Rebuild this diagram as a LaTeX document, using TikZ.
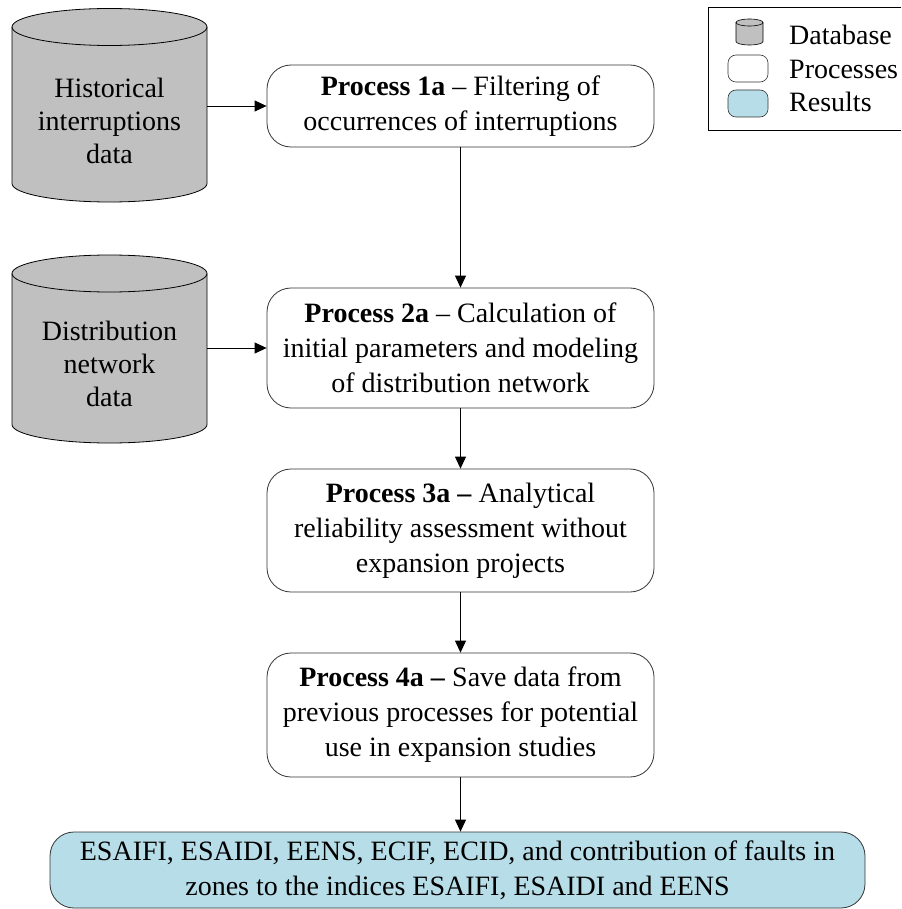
\documentclass[tikz,border=0pt]{standalone}
\usepackage{fontspec}
\setmainfont{Liberation Serif}
\usetikzlibrary{arrows.meta}
\definecolor{dbgray}{HTML}{C0C0C0}
\definecolor{resblue}{HTML}{B7DEE8}
\definecolor{edgegray}{HTML}{333333}

\begin{document}
\begin{tikzpicture}[x=1pt,y=-1pt,
  every node/.style={font=\fontsize{28}{35}\selectfont, inner sep=0pt},
  proc/.style={draw=edgegray, line width=0.8pt, rounded corners=24pt, minimum width=387pt, align=center},
  res/.style={proc, fill=resblue, minimum width=815pt, minimum height=76pt},
  dbtext/.style={font=\fontsize{28}{33}\selectfont, minimum width=195pt, align=center},
  flow/.style={-{Triangle[length=12pt,width=11pt]}, line width=0.8pt}]
\useasboundingbox (0,0) rectangle (901,909);

\fill[dbgray] (12,27) -- (12,183.5) arc[start angle=180,end angle=360,x radius=97.5pt,y radius=18.5pt] -- (207,27) -- cycle;
\draw[fill=dbgray,line width=0.8pt] (109.5,27) ellipse[x radius=97.5pt,y radius=18.5pt];
\draw[line width=0.8pt] (12,27) -- (12,183.5) arc[start angle=180,end angle=360,x radius=97.5pt,y radius=18.5pt] -- (207,27);

\fill[dbgray] (12,273.5) -- (12,424.5) arc[start angle=180,end angle=360,x radius=97.5pt,y radius=18.5pt] -- (207,273.5) -- cycle;
\draw[fill=dbgray,line width=0.8pt] (109.5,273.5) ellipse[x radius=97.5pt,y radius=18.5pt];
\draw[line width=0.8pt] (12,273.5) -- (12,424.5) arc[start angle=180,end angle=360,x radius=97.5pt,y radius=18.5pt] -- (207,273.5);

\node[dbtext] (hist) at (109.5,121) {Historical\\interruptions\\data};
\node[dbtext] (dist) at (109.5,364) {Distribution\\network\\data};

\node[proc, minimum height=82pt] (p1a) at (460.5,106) {\textbf{Process 1a} -- Filtering of\\occurrences of interruptions};
\node[proc, minimum height=120pt] (p2a) at (460.5,348) {\textbf{Process 2a} -- Calculation of\\initial parameters and modeling\\of distribution network};
\node[proc, minimum height=123pt] (p3a) at (460.5,530.5) {\textbf{Process 3a --} Analytical\\reliability assessment without\\expansion projects};
\node[proc, minimum height=124pt] (p4a) at (460.5,715) {\textbf{Process 4a --} Save data from\\previous processes for potential\\use in expansion studies};
\node[res] (out) at (457.5,870) {ESAIFI, ESAIDI, EENS, ECIF, ECID, and contribution of faults in\\zones to the indices ESAIFI, ESAIDI and EENS};

\draw[flow] (hist.east |- p1a.west) -- (p1a.west);
\draw[flow] (dist.east |- p2a.west) -- (p2a.west);
\draw[flow] (p1a.south) -- (p2a.north);
\draw[flow] (p2a.south) -- (p3a.north);
\draw[flow] (p3a.south) -- (p4a.north);
\draw[flow] (p4a.south) -- (p4a.south |- out.north);

\draw[line width=0.8pt] (901,7) -- (708,7) -- (708,130) -- (901,130);
\fill[dbgray] (736,22.5) -- (736,41.5) arc[start angle=180,end angle=360,x radius=13.5pt,y radius=3.5pt] -- (763,22.5) -- cycle;
\draw[fill=dbgray,line width=0.6pt] (749.5,22.5) ellipse[x radius=13.5pt,y radius=3.5pt];
\draw[line width=0.6pt] (736,22.5) -- (736,41.5) arc[start angle=180,end angle=360,x radius=13.5pt,y radius=3.5pt] -- (763,22.5);
\draw[draw=edgegray, line width=0.6pt, rounded corners=8pt] (728,55) rectangle (768,82);
\draw[draw=edgegray, fill=resblue, line width=0.6pt, rounded corners=8pt] (728,90) rectangle (768,117);
\node[anchor=base west] (lgdb) at (789,45) {Database};
\node[anchor=base west] (lgproc) at (789,79) {Processes};
\node[anchor=base west] (lgres) at (789,112) {Results};
\end{tikzpicture}
\end{document}
